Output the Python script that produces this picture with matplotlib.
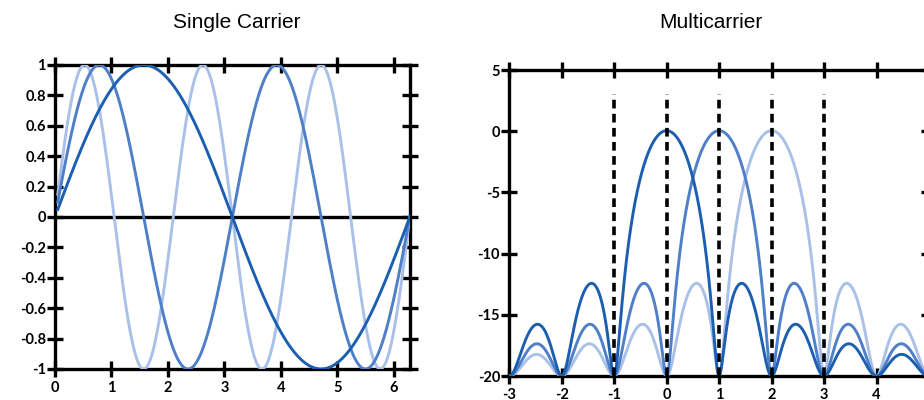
import numpy as np
import matplotlib
matplotlib.use("Agg")
import matplotlib.pyplot as plt

plt.rcParams["axes.unicode_minus"] = False

# data
single_freqs = [1, 2, 3]                 # sin(k x), k per curve
single_colors = ["#1c5fb0", "#4f7fc8", "#a9c1e8"]
single_yticks = [-1, -0.8, -0.6, -0.4, -0.2, 0, 0.2, 0.4, 0.6, 0.8, 1]
single_ylabels = ["-1", "-0.8", "-0.6", "-0.4", "-0.2", "0", "0.2", "0.4", "0.6", "0.8", "1"]
single_xticks = [0, 1, 2, 3, 4, 5, 6]

multi_centers = [0, 1, 2]                # subcarrier positions
multi_floor = 0.01                       # gives the -20 dB floor
multi_colors = ["#1c5fb0", "#4f7fc8", "#a9c1e8"]
multi_dashes = [-1, 0, 1, 2, 3]
multi_dash_top = 3
multi_xticks = [-3, -2, -1, 0, 1, 2, 3, 4, 5]
multi_xlabels = ["-3", "-2", "-1", "0", "1", "2", "3", "4", ""]
multi_yticks = [-20, -15, -10, -5, 0, 5]

fig = plt.figure(figsize=(9.24, 4), dpi=100)


def style_axes(ax):
    for s in ax.spines.values():
        s.set_linewidth(2.4)
        s.set_color("black")
    ax.tick_params(which="both", direction="inout", length=11, width=2.4,
                   top=True, right=True, labeltop=False, labelright=False)
    ax.tick_params(axis="x", pad=3)
    ax.tick_params(axis="y", pad=1)
    for lab in ax.get_xticklabels() + ax.get_yticklabels():
        lab.set_fontfamily("Lato")
        lab.set_fontweight("bold")
        lab.set_fontsize(10.5)


# left: single carrier
ax1 = fig.add_axes([0.0595, 0.0775, 0.384, 0.76])
x = np.linspace(0.05, 2 * np.pi, 600)
for k, c in reversed(list(zip(single_freqs, single_colors))):
    ax1.plot(x, np.sin(k * x), color=c, lw=2.1, zorder=3)
ax1.axhline(0, color="black", lw=2.4, zorder=2)
ax1.set_xlim(0, 2 * np.pi)
ax1.set_ylim(-1, 1)
ax1.set_xticks(single_xticks)
ax1.set_yticks(single_yticks)
ax1.set_yticklabels(single_ylabels)
style_axes(ax1)
ax1.set_title("Single Carrier", fontsize=15, family="Liberation Sans", pad=27)
ax1.title.set_x(0.511)

# right: multicarrier
ax2 = fig.add_axes([0.551, 0.06, 0.4545, 0.765])
f = np.linspace(-3, 5.2, 1200)
for c0, c in reversed(list(zip(multi_centers, multi_colors))):
    y = 10 * np.log10(np.sinc(f - c0) ** 2 + multi_floor)
    ax2.plot(f, y, color=c, lw=2.1, zorder=3)
ax2.vlines(multi_dashes, -20, multi_dash_top, colors="black", lw=2.6,
           linestyles=(0, (2.4, 1.5)), zorder=4)
ax2.set_xlim(-3, 5)
ax2.set_ylim(-20, 5)
ax2.set_xticks(multi_xticks)
ax2.set_xticklabels(multi_xlabels)
ax2.set_yticks(multi_yticks)
style_axes(ax2)
ax2.set_title("Multicarrier", fontsize=15, family="Liberation Sans", pad=30)
ax2.title.set_x(0.48)

fig.savefig("out.png", dpi=100)
